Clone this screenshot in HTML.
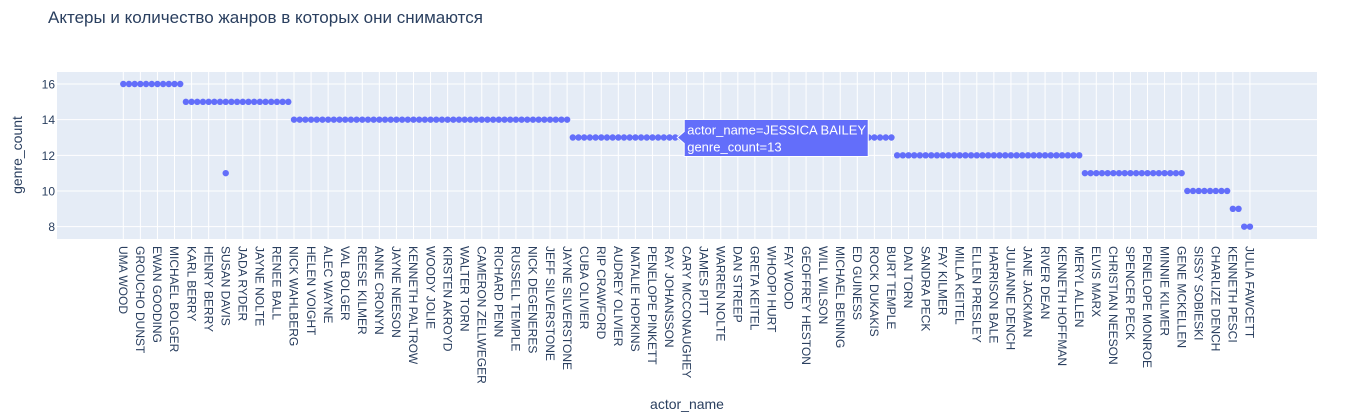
<!DOCTYPE html>
<html><head><meta charset="utf-8">
<style>
html,body{margin:0;padding:0;background:#fff;}
svg{display:block;font-family:"Liberation Sans","DejaVu Sans",sans-serif;}
</style></head>
<body>
<svg id="chart" width="1348" height="419">
  <text x="48" y="23" font-size="17" fill="#2a3f5f">Актеры и количество жанров в которых они снимаются</text>
  <rect x="57" y="72" width="1260" height="167" fill="#e5ecf6"/>
  <g id="grid"></g>
  <g id="yticks"></g>
  <g id="xticks"></g>
  <g id="points"></g>
  <text x="22" y="155" font-size="14" fill="#2a3f5f" text-anchor="middle" transform="rotate(-90 22 155)">genre_count</text>
  <text x="687" y="409" font-size="14" fill="#2a3f5f" text-anchor="middle">actor_name</text>
  <g id="tooltip"></g>
</svg>
<script>
const labeledNames = ["UMA WOOD","GROUCHO DUNST","EWAN GOODING","MICHAEL BOLGER","KARL BERRY","HENRY BERRY","SUSAN DAVIS","JADA RYDER","JAYNE NOLTE","RENEE BALL","NICK WAHLBERG","HELEN VOIGHT","ALEC WAYNE","VAL BOLGER","REESE KILMER","ANNE CRONYN","JAYNE NEESON","KENNETH PALTROW","WOODY JOLIE","KIRSTEN AKROYD","WALTER TORN","CAMERON ZELLWEGER","RICHARD PENN","RUSSELL TEMPLE","NICK DEGENERES","JEFF SILVERSTONE","JAYNE SILVERSTONE","CUBA OLIVIER","RIP CRAWFORD","AUDREY OLIVIER","NATALIE HOPKINS","PENELOPE PINKETT","RAY JOHANSSON","CARY MCCONAUGHEY","JAMES PITT","WARREN NOLTE","DAN STREEP","GRETA KEITEL","WHOOPI HURT","FAY WOOD","GEOFFREY HESTON","WILL WILSON","MICHAEL BENING","ED GUINESS","ROCK DUKAKIS","BURT TEMPLE","DAN TORN","SANDRA PECK","FAY KILMER","MILLA KEITEL","ELLEN PRESLEY","HARRISON BALE","JULIANNE DENCH","JANE JACKMAN","RIVER DEAN","KENNETH HOFFMAN","MERYL ALLEN","ELVIS MARX","CHRISTIAN NEESON","SPENCER PECK","PENELOPE MONROE","MINNIE KILMER","GENE MCKELLEN","SISSY SOBIESKI","CHARLIZE DENCH","KENNETH PESCI","JULIA FAWCETT"];
const genreCounts = [
16,16,16,16,16,16,16,16,16,16,16,
15,15,15,15,15,15,15,15,15,15,15,15,15,15,15,15,15,15,15,
14,14,14,14,14,14,14,14,14,14,14,14,14,14,14,14,14,14,14,14,14,14,14,14,14,14,14,14,14,14,14,14,14,14,14,14,14,14,14,14,14,14,14,14,14,14,14,14,14,
13,13,13,13,13,13,13,13,13,13,13,13,13,13,13,13,13,13,13,13,13,13,13,13,13,13,13,13,13,13,13,13,13,13,13,13,13,13,13,13,13,13,13,13,13,13,13,13,13,13,13,13,13,13,13,13,13,
12,12,12,12,12,12,12,12,12,12,12,12,12,12,12,12,12,12,12,12,12,12,12,12,12,12,12,12,12,12,12,12,12,
11,11,11,11,11,11,11,11,11,11,11,11,11,11,11,11,11,11,
10,10,10,10,10,10,10,10,
9,9,
8,8];
const extraPointCats = [18];
const extraPointVals = [11];
const yTicks = [8,10,12,14,16];
const labelEvery = 3;
const hoverCat = 97;
const hoverName = "JESSICA BAILEY";

const NS = "http://www.w3.org/2000/svg";
function xPos(i){ return 123.3 + i*5.69; }
function yPos(v){ return 84 + (16 - v)*17.83; }
function mk(tag, attrs, parent){
  const e = document.createElementNS(NS, tag);
  for (const k in attrs) e.setAttribute(k, attrs[k]);
  parent.appendChild(e); return e;
}
const grid = document.getElementById('grid');
const yt = document.getElementById('yticks');
yTicks.forEach(v=>{
  const l = mk('line',{x1:57,x2:1317,y1:yPos(v),y2:yPos(v),stroke:'#fff','stroke-width':1},grid);
  
  
  const t = mk('text',{x:55,y:yPos(v)+4.5,'font-size':12,fill:'#2a3f5f','text-anchor':'end'},yt);
  t.textContent = v;
  
  
});
const xt = document.getElementById('xticks');
labeledNames.forEach((n,k)=>{
  const i = k*labelEvery;
  const x = xPos(i);
  const l = mk('line',{x1:x,x2:x,y1:72,y2:239,stroke:'#fff','stroke-width':1},grid);
  
  
  const t = mk('text',{x:0,y:0,'font-size':12,fill:'#2a3f5f',transform:`translate(${x-4.3},246) rotate(90)`},xt);
  t.textContent = n;
  
  
});
const pts = document.getElementById('points');
genreCounts.forEach((v,i)=>{
  const c = mk('circle',{cx:xPos(i),cy:yPos(v),r:3.2,fill:'#636efa'},pts);
  
  
});
extraPointCats.forEach((ci,k)=>{
  const c = mk('circle',{cx:xPos(ci),cy:yPos(extraPointVals[k]),r:3.2,fill:'#636efa'},pts);
  
  
});
const tg = document.getElementById('tooltip');
const hx = xPos(hoverCat)+2, hy = yPos(genreCounts[hoverCat]);
const bx = hx+7, bw = 184, bt = hy-18, bh = 37;
const p = mk('path',{d:`M${hx},${hy} L${bx},${hy-6} L${bx},${bt} L${bx+bw},${bt} L${bx+bw},${bt+bh} L${bx},${bt+bh} L${bx},${hy+6} Z`,fill:'#636efa',stroke:'#fff','stroke-width':1},tg);


const t1 = mk('text',{x:bx+3,y:bt+15,'font-size':13,fill:'#fff'},tg);
t1.textContent = 'actor_name=' + hoverName;


const t2 = mk('text',{x:bx+3,y:bt+32,'font-size':13,fill:'#fff'},tg);
t2.textContent = 'genre_count=' + genreCounts[hoverCat];


</script>
</body></html>
